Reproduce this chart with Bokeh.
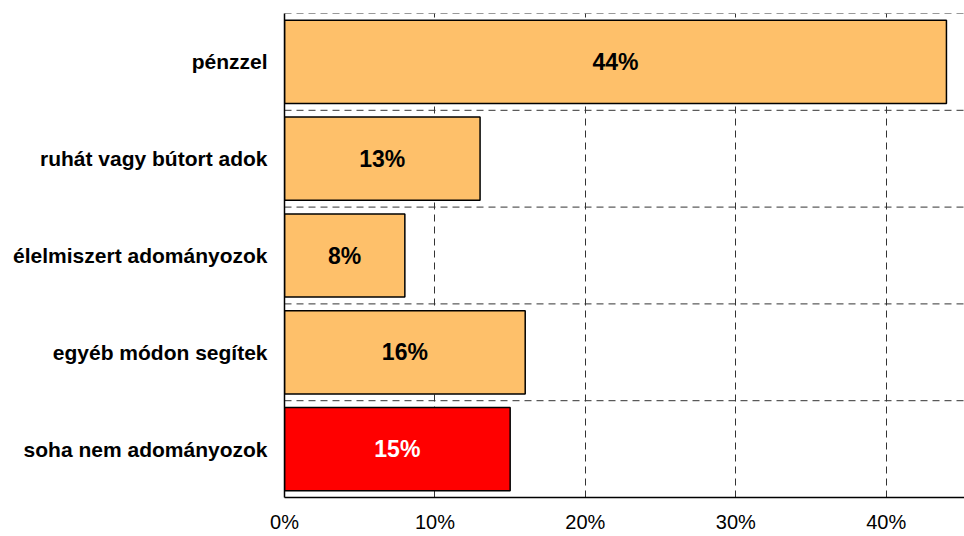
from bokeh.plotting import figure
from bokeh.models import FactorRange, Range1d, FixedTicker, PrintfTickFormatter, Span, ColumnDataSource
from bokeh.core.properties import value
from bokeh.embed import file_html
from bokeh.resources import INLINE

categories = ["pénzzel", "ruhát vagy bútort adok", "élelmiszert adományozok",
              "egyéb módon segítek", "soha nem adományozok"]
values = [44, 13, 8, 16, 15]
colors = ["#FEC06A", "#FEC06A", "#FEC06A", "#FEC06A", "#FF0000"]
label_colors = ["black", "black", "black", "black", "white"]
x_ticks = [0, 10, 20, 30, 40]

FONT = "Liberation Sans"

src = ColumnDataSource(dict(
    cat=categories, val=values, col=colors, lcol=label_colors,
    mid=[v / 2 for v in values], lab=[f"{v}%" for v in values],
))

p = figure(width=964, height=536, output_backend="svg", toolbar_location=None,
           y_range=FactorRange(*reversed(categories), range_padding=0),
           x_range=Range1d(0, 45.2),
           min_border_left=284, min_border_right=0, min_border_top=13, min_border_bottom=39)
p.outline_line_color = None
p.background_fill_color = "white"
p.border_fill_color = "white"

# grids
p.ygrid.grid_line_color = None
p.xgrid.ticker = FixedTicker(ticks=x_ticks[1:])
p.xgrid.grid_line_color = "#333333"
p.xgrid.grid_line_dash = "7 5"
p.xgrid.grid_line_width = 1
for loc in range(1, len(categories) + 1):
    p.add_layout(Span(location=loc, dimension="width", line_color="#333333",
                      line_dash="7 5", line_width=1, level="underlay"))

p.hbar(y="cat", right="val", height=0.86, fill_color="col", line_color="black",
       line_width=1.5, source=src)
p.text(x="mid", y="cat", text="lab", text_color="lcol", text_align="center",
       text_baseline="middle", text_font=value(FONT),
       text_font_style="bold", text_font_size="23px", source=src)

# x axis
p.xaxis.ticker = FixedTicker(ticks=x_ticks)
p.xaxis.formatter = PrintfTickFormatter(format="%d%%")
p.xaxis.axis_line_color = "black"
p.xaxis.axis_line_width = 1.5
p.xaxis.major_tick_line_color = None
p.xaxis.minor_tick_line_color = None
p.xaxis.major_label_text_font = FONT
p.xaxis.major_label_text_font_size = "20px"
p.xaxis.major_label_text_color = "black"
p.xaxis.major_label_standoff = 7

# y axis
p.yaxis.axis_line_color = "black"
p.yaxis.axis_line_width = 1.5
p.yaxis.major_tick_line_color = None
p.yaxis.minor_tick_line_color = None
p.yaxis.major_label_text_font = FONT
p.yaxis.major_label_text_font_style = "bold"
p.yaxis.major_label_text_font_size = "21px"
p.yaxis.major_label_text_color = "black"
p.yaxis.major_label_standoff = 11

open("out.html", "w").write(file_html(p, INLINE))
